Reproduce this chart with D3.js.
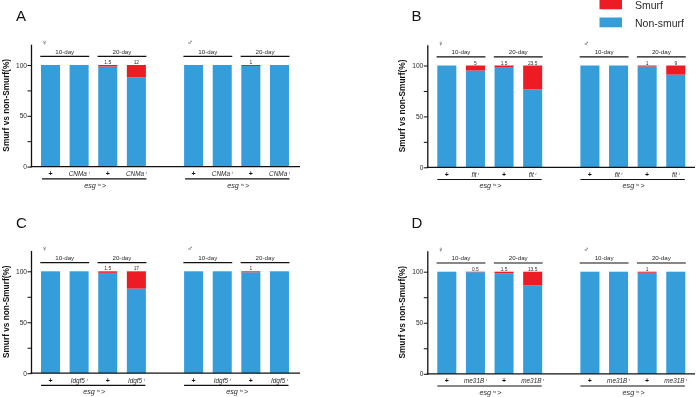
<!DOCTYPE html>
<html><head><meta charset="utf-8">
<script src="https://cdnjs.cloudflare.com/ajax/libs/d3/7.8.5/d3.min.js"></script>
<style>
html,body{margin:0;padding:0;background:#fff}
svg{display:block;font-family:"Liberation Sans",Arial,sans-serif;filter:blur(0.3px)}
</style></head><body>
<svg id="c" width="697" height="397"></svg>
<script>
// Data
const panelNames = ["A","B","C","D"];
const genes = ["CNMa","fit","Idgf5","me31B"];
const smurfA = [0,0,1.5,12,0,0,1,0];
const smurfB = [0,5,1.5,23.5,0,0,1,9];
const smurfC = [0,0,1.5,17,0,0,1,0];
const smurfD = [0,0.5,1.5,13.5,0,0,1,0];
const smurfLabelsA = ["","","1.5","12","","","1",""];
const smurfLabelsB = ["","5","1.5","23.5","","","1","9"];
const smurfLabelsC = ["","","1.5","17","","","1",""];
const smurfLabelsD = ["","0.5","1.5","13.5","","","1",""];
const slots = [0,1,2,3,5,6,7,8];
const yTicks = [0,25,50,75,100];
const yLabelled = [0,50,100];
const seriesNames = ["Smurf","Non-smurf"];
const ageLabels = ["10-day","20-day"];

const BLUE="#359eda", RED="#ed1c24", INK="#111", GREY="#2a2a2a";
const smurf=[smurfA,smurfB,smurfC,smurfD];
const labels=[smurfLabelsA,smurfLabelsB,smurfLabelsC,smurfLabelsD];

// layout per panel
const axisX=[31.5,427.8,31.5,427.8];
const axisEnd=[300,695,300,695];
const y0px=[166.6,167.3,373.2,373.8];
const y100px=[65,65.5,271.3,271.7];
const letterX=[16,411.5,16,411.5];
const letterY=[20.5,20.5,228,228];
const bottomShift=[1,0,0,0];

const svg=d3.select("#c");

panelNames.forEach((name,p)=>{
  const g=svg.append("g").attr("class","panel-"+name);
  const ox=axisX[p];
  const x=d3.scaleBand().domain(d3.range(9)).range([ox+4.7,ox+4.7+9*28.62]).paddingInner(0.335).paddingOuter(0.1675);
  const y=d3.scaleLinear().domain([0,100]).range([y0px[p],y100px[p]]);
  const vals=slots.map((s,i)=>({s,i,smurf:smurf[p][i],non:100-smurf[p][i],lab:labels[p][i]}));

  g.selectAll("rect.non").data(vals).join("rect").attr("class","non")
    .attr("x",d=>x(d.s)).attr("width",x.bandwidth())
    .attr("y",d=>y(d.non)).attr("height",d=>y(0)-y(d.non)).attr("fill",BLUE);
  g.selectAll("rect.smurf").data(vals.filter(d=>d.smurf>0)).join("rect").attr("class","smurf")
    .attr("x",d=>x(d.s)).attr("width",x.bandwidth())
    .attr("y",d=>y(100)).attr("height",d=>y(d.non)-y(100)).attr("fill",RED);
  g.selectAll("text.val").data(vals.filter(d=>d.lab)).join("text").attr("class","val")
    .attr("x",d=>x(d.s)+x.bandwidth()/2).attr("y",y(100)-1)
    .attr("text-anchor","middle").attr("font-size",4.9).attr("fill",GREY).text(d=>d.lab);

  // y axis
  const yTop=y(120);
  const ax=d3.axisLeft(y).tickValues(yTicks).tickSize(4)
    .tickFormat(d=>yLabelled.includes(d)?d:"");
  const ag=g.append("g").attr("transform",`translate(${ox},0)`).call(ax);
  ag.select(".domain").remove();
  ag.selectAll("line").attr("stroke",INK).attr("stroke-width",1);
  ag.selectAll("text").attr("font-size",6.6).attr("fill",GREY).attr("x",-4.5);
  g.append("line").attr("x1",ox).attr("x2",ox).attr("y1",yTop).attr("y2",y(0)+0.6).attr("stroke",INK).attr("stroke-width",1.3);
  g.append("line").attr("x1",ox-1).attr("x2",axisEnd[p]).attr("y1",y(0)).attr("y2",y(0)).attr("stroke",INK).attr("stroke-width",1.3);

  g.append("text").attr("transform",`translate(${ox-22.6},${(y(0)+y(100))/2-10.5}) rotate(-90)`)
    .attr("text-anchor","middle").attr("font-size",8.3).attr("font-weight","bold").attr("fill",INK)
    .text("Smurf vs non-Smurf(%)");

  g.append("text").attr("x",letterX[p]).attr("y",letterY[p]).attr("font-size",15).attr("fill",INK).text(name);

  // age brackets, sex symbols, genotype labels per sex block
  [[0,"\u2640"],[5,"\u2642"]].forEach(([s0,sym],k)=>{
    const cx=i=>x(s0+i)+x.bandwidth()/2;
    g.append("text").attr("x",x(s0)+(k?6:3.5)).attr("y",y(100)-20).attr("text-anchor","middle")
      .attr("font-size",7.5).attr("fill",GREY).text(sym);
    ageLabels.forEach((lab,a)=>{
      const l=x(s0+2*a)-0.7, r=x(s0+2*a+1)+x.bandwidth()+0.5;
      g.append("line").attr("x1",l).attr("x2",r).attr("y1",y(100)-8.7).attr("y2",y(100)-8.7).attr("stroke",INK).attr("stroke-width",1.2);
      g.append("text").attr("x",(l+r)/2).attr("y",y(100)-11.5).attr("text-anchor","middle").attr("font-size",6.2).attr("fill",GREY).text(lab);
    });
    d3.range(4).forEach(i=>{
      const t=g.append("text").attr("x",cx(i)).attr("y",y(0)+9.6).attr("text-anchor","middle").attr("fill",GREY);
      if(i%2===0){t.attr("font-size",7).attr("font-weight","bold").attr("fill",INK).text("+");}
      else{
        t.attr("font-size",6.4).attr("font-style","italic");
        t.append("tspan").text(genes[p]+" ");
        t.append("tspan").attr("font-size",4).attr("dy",-2).text("i");
      }
    });
    const bl=x(s0)+bottomShift[p], br=x(s0+3)+x.bandwidth()+bottomShift[p]-0.5;
    g.append("line").attr("x1",bl).attr("x2",br).attr("y1",y(0)+12.2).attr("y2",y(0)+12.2).attr("stroke",INK).attr("stroke-width",1.2);
    const t=g.append("text").attr("x",(bl+br)/2+1).attr("y",y(0)+21).attr("text-anchor","middle").attr("font-size",7.2).attr("fill",GREY);
    t.append("tspan").attr("font-style","italic").text("esg ");
    t.append("tspan").attr("font-size",4).attr("dy",-2).text("ts ");
    t.append("tspan").attr("dy",2).text(">");
  });
});

// legend
const legendY=d3.scalePoint().domain(seriesNames).range([4.5,22.5]);
const legendColor=d3.scaleOrdinal().domain(seriesNames).range([RED,BLUE]);
const lg=svg.append("g");
lg.selectAll("rect").data(seriesNames).join("rect")
  .attr("x",599.5).attr("width",22.5).attr("y",d=>legendY(d)-5).attr("height",9.8).attr("fill",d=>legendColor(d));
lg.selectAll("text").data(seriesNames).join("text")
  .attr("x",635).attr("y",d=>legendY(d)+4.2).attr("font-size",10.5).attr("fill",GREY).text(d=>d);
</script>
</body></html>
